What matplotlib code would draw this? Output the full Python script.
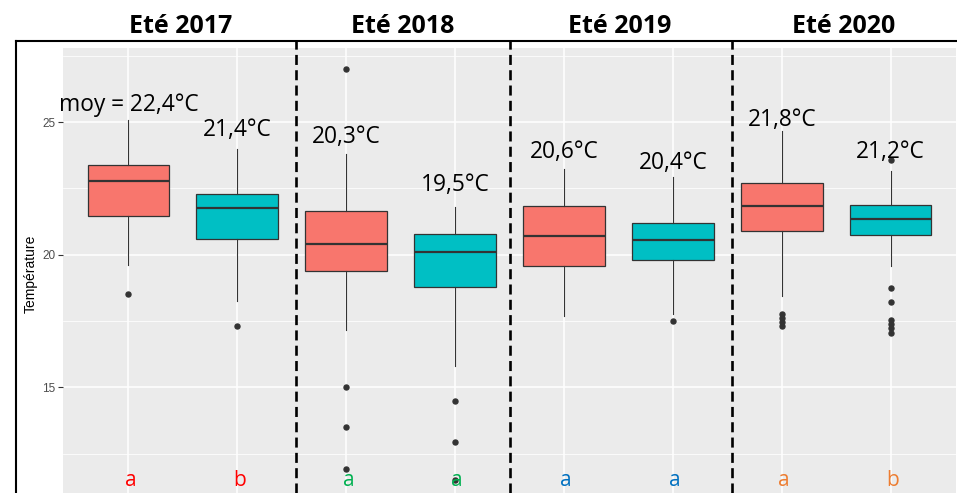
import matplotlib
matplotlib.use("Agg")
import matplotlib.pyplot as plt
from matplotlib.lines import Line2D

plt.rcParams['font.family'] = ['Open Sans', 'DejaVu Sans']

# données
saisons = ["Eté 2017", "Eté 2018", "Eté 2019", "Eté 2020"]
q1 = [21.48, 20.60, 19.40, 18.80, 19.56, 19.79, 20.89, 20.76]
mediane = [22.79, 21.78, 20.40, 20.10, 20.71, 20.56, 21.84, 21.34]
q3 = [23.39, 22.29, 21.64, 20.79, 21.82, 21.19, 22.69, 21.86]
moust_bas = [19.62, 18.26, 17.15, 15.81, 17.68, 17.75, 18.44, 19.56]
moust_haut = [25.09, 24.00, 23.80, 21.79, 23.23, 22.94, 24.67, 23.17]
extremes = [
    [18.5],
    [17.3],
    [27.0, 15.0, 13.5, 11.93],
    [14.5, 12.92, 11.5],
    [],
    [17.5],
    [17.75, 17.6, 17.45, 17.3],
    [23.57, 18.76, 18.22, 17.53, 17.4, 17.25, 17.05],
]
moyennes = ["moy = 22,4°C", "21,4°C", "20,3°C", "19,5°C",
            "20,6°C", "20,4°C", "21,8°C", "21,2°C"]
lettres = ["a", "b", "a", "a", "a", "a", "a", "b"]

# mise en page
couleurs_box = ["#F8766D", "#00BFC4"]
couleurs_lettres = ["#FF0000", "#00B050", "#0070C0", "#ED7D31"]
y_moy = [25.42, 24.48, 24.23, 22.42, 23.66, 23.24, 24.86, 23.66]
x_titres = [1.48, 3.52, 5.51, 7.57]
sep = [2.54, 4.5, 6.54]

W, H = 957, 493
fig = plt.figure(figsize=(W / 100, H / 100), dpi=100)
ax = fig.add_axes([63 / W, 0, 893 / W, 445 / H])
ax.set_facecolor("#EBEBEB")

pos = list(range(1, len(q1) + 1))
stats = []
for i in range(len(q1)):
    stats.append(dict(q1=q1[i], med=mediane[i], q3=q3[i],
                      whislo=moust_bas[i], whishi=moust_haut[i],
                      fliers=extremes[i]))

bp = ax.bxp(stats, positions=pos, widths=0.75, patch_artist=True,
            showcaps=False,
            boxprops=dict(edgecolor="#333333", linewidth=0.9),
            medianprops=dict(color="#333333", linewidth=1.6),
            whiskerprops=dict(color="#333333", linewidth=0.8),
            flierprops=dict(marker="o", markerfacecolor="#333333",
                            markeredgecolor="#333333", markersize=3.6))
for i, b in enumerate(bp["boxes"]):
    b.set_facecolor(couleurs_box[i % 2])

ax.set_xlim(0.4, len(q1) + 0.6)
ax.set_ylim(11.01, 27.80)
ax.set_xticks(pos)
ax.set_yticks([15, 20, 25])
ax.set_yticks([12.5, 17.5, 22.5, 27.5], minor=True)
ax.grid(which="major", color="white", linewidth=1.1)
ax.grid(which="minor", axis="y", color="white", linewidth=0.55)
ax.set_axisbelow(True)
ax.tick_params(axis="x", length=0, labelbottom=False)
ax.tick_params(axis="y", which="major", length=3.5, width=0.8, color="#333333",
               labelcolor="#4D4D4D", labelsize=8.5, pad=2)
ax.tick_params(axis="y", which="minor", length=0)
for lab in ax.get_yticklabels():
    lab.set_family(["Liberation Sans", "DejaVu Sans"])
for s in ax.spines.values():
    s.set_visible(False)

# moyennes au-dessus des boîtes
for i, t in enumerate(moyennes):
    ax.text(pos[i], y_moy[i], t, ha="center", va="baseline", fontsize=16.4,
            color="black")

# lettres de significativité
for i, l in enumerate(lettres):
    ax.text(pos[i] + 0.02, 11.28, l, ha="center", va="baseline", fontsize=15,
            color=couleurs_lettres[i // 2])

# titres des étés
for x, t in zip(x_titres, saisons):
    ax.text(x, 1.0337, t, transform=ax.get_xaxis_transform(), ha="center",
            va="baseline", fontsize=18, fontweight="bold", clip_on=False)

# séparateurs pointillés
for x in sep:
    ax.axvline(x, ymin=0, ymax=(H - 41) / 445, clip_on=False, color="black",
               linewidth=1.9, dashes=(3.8, 2.0))

# cadre
fig.add_artist(Line2D([16 / W, 1], [1 - 41 / H] * 2, color="black", linewidth=1.5))
fig.add_artist(Line2D([16 / W] * 2, [0, 1 - 41 / H], color="black", linewidth=1.5))

fig.text(31 / W, 1 - 274 / H, "Température", rotation=90, ha="center",
         va="center", fontsize=10, family=["Liberation Sans", "DejaVu Sans"])

fig.savefig("out.png", dpi=100)
